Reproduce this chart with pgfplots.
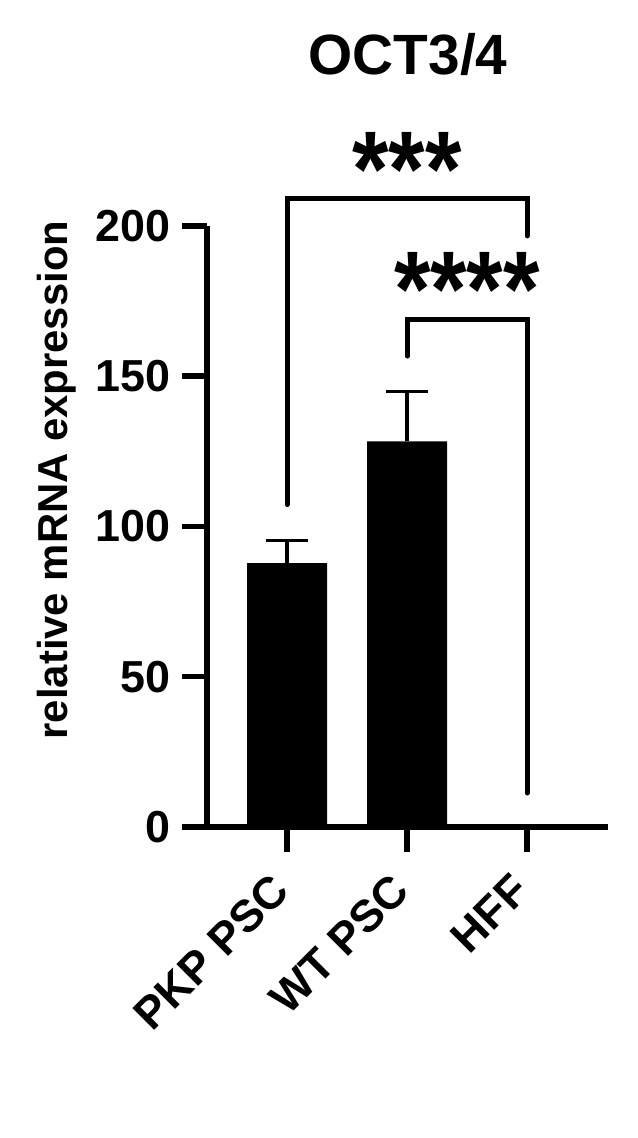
\documentclass[border=0pt]{standalone}
\usepackage{pgfplots}
\pgfplotsset{compat=1.18}
\usepackage{fontspec}
\setmainfont{Liberation Sans}

\newcommand{\tickfont}{\fontsize{45}{50}\selectfont\bfseries}

\begin{document}
\begin{tikzpicture}
\useasboundingbox (0bp,0bp) rectangle (638bp,1138bp);
\begin{axis}[
    at={(207bp,311bp)},
    anchor=south west,
    scale only axis,
    width=401bp,
    height=601bp,
    clip=false,
    axis x line=bottom,
    axis y line=left,
    axis line style={-,line width=5.5bp},
    xmin=-0.6667, xmax=2.675,
    ymin=0, ymax=200,
    ytick={0,50,100,150,200},
    xtick={0,1,2},
    xticklabels={PKP PSC,WT PSC,HFF},
    tick align=outside,
    major tick length=25bp,
    tick style={line width=5.5bp,black},
    /pgf/number format/assume math mode=true,
    yticklabel style={font=\tickfont,inner sep=0pt,xshift=-11bp},
    xticklabel style={font=\tickfont,rotate=45,anchor=east,inner sep=0pt,yshift=-17bp,xshift=-26bp},
]
\addplot[ybar,bar width=0.6667,fill=black,draw=none,
    error bars/.cd,y dir=plus,y explicit,
    error bar style={line width=3.5bp,black},
    error mark options={rotate=90,line width=3.5bp,mark size=21bp,black}]
    coordinates {(0,87.8) +- (0,7.5) (1,128.3) +- (0,16.7) (2,0.3) +- (0,0)};

% significance brackets
\addplot[line width=5bp,line cap=round,line join=miter,no marks,black]
    coordinates {(0,107.3) (0,209) (2,209) (2,196.7)};
\addplot[line width=5bp,line cap=round,line join=miter,no marks,black]
    coordinates {(1,156.7) (1,169) (2,169) (2,11.3)};

\node[anchor=base,yscale=1.15,font=\fontsize{94}{94}\selectfont\bfseries] at (axis cs:1,206.5) {***};
\node[anchor=base,yscale=1.15,font=\fontsize{94}{94}\selectfont\bfseries] at (axis cs:1.5,166.5) {****};
\end{axis}
\node[anchor=base,font=\fontsize{57}{60}\selectfont\bfseries] at (408bp,1063bp) {OCT3/4};
\node[rotate=90,anchor=base,font=\fontsize{42}{46}\selectfont\bfseries] at (67bp,658bp) {relative mRNA expression};
\end{tikzpicture}
\end{document}
